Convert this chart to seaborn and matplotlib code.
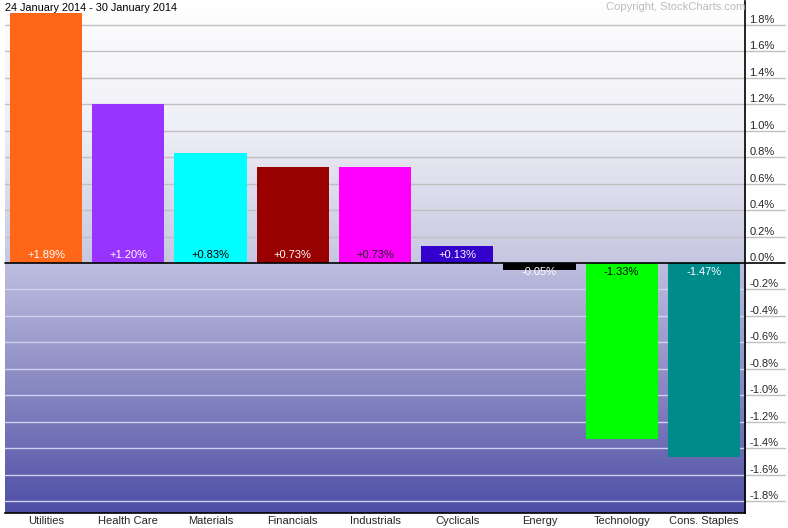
import numpy as np
import pandas as pd
import matplotlib
matplotlib.use("Agg")
import matplotlib.pyplot as plt
import seaborn as sns
from matplotlib.colors import LinearSegmentedColormap

# === Data ===
sectors = ["Utilities", "Health Care", "Materials", "Financials", "Industrials",
           "Cyclicals", "Energy", "Technology", "Cons. Staples"]
changes = [1.89, 1.20, 0.83, 0.73, 0.73, 0.13, -0.05, -1.33, -1.47]
bar_colors = ["#ff6618", "#9933ff", "#00ffff", "#990000", "#ff00ff",
              "#3300cc", "#000000", "#00ff00", "#008b8b"]
label_colors = ["white", "white", "black", "white", "#222222",
                "white", "white", "black", "white"]
yticks = [-1.8, -1.6, -1.4, -1.2, -1.0, -0.8, -0.6, -0.4, -0.2,
          0.0, 0.2, 0.4, 0.6, 0.8, 1.0, 1.2, 1.4, 1.6, 1.8]
title = "24 January 2014 - 30 January 2014"
credit = "Copyright, StockCharts.com"

df = pd.DataFrame({"sector": sectors, "change": changes})

sns.set_theme(style="white")
plt.rcParams["font.family"] = ["Liberation Sans", "DejaVu Sans"]

fig = plt.figure(figsize=(7.88, 5.28), dpi=100)
ax = fig.add_axes([5 / 788, 15 / 528, 740 / 788, 512 / 528])

ymin, ymax = -1.891, 1.982
xmin, xmax = -0.5, 8.52
ax.set_xlim(xmin, xmax)
ax.set_ylim(ymin, ymax)

# === Background gradients ===
upper = LinearSegmentedColormap.from_list("up", ["#c6c6e0", "#eeeef6", "#ffffff"])
lower = LinearSegmentedColormap.from_list("lo", ["#4e4ea6", "#8888c2", "#bebee0"])
grad = np.linspace(0, 1, 256).reshape(-1, 1)
ax.imshow(grad, cmap=upper, aspect="auto", origin="lower",
          extent=[xmin, xmax, 0, ymax], zorder=0)
ax.imshow(grad, cmap=lower, aspect="auto", origin="lower",
          extent=[xmin, xmax, ymin, 0], zorder=0)

# === Gridlines (extend under right labels) ===
for t in yticks:
    if t > 0:
        ax.axhline(t, xmin=0, xmax=780 / 740, color="#c0c0c0", lw=1,
                   clip_on=False, zorder=1)
    elif t < 0:
        ax.axhline(t, xmin=0, xmax=1, color="#d0d0f0", lw=1, zorder=1)
        ax.axhline(t, xmin=1, xmax=780 / 740, color="#c0c0c0", lw=1,
                   clip_on=False, zorder=1)

# === Bars ===
sns.barplot(data=df, x="sector", y="change", hue="sector", palette=bar_colors,
            width=0.878, saturation=1, legend=False, ax=ax, zorder=2)
for p in ax.patches:
    p.set_edgecolor("none")

ax.axhline(0, xmin=0, xmax=780 / 740, color="black", lw=1.2, clip_on=False, zorder=3)

# === Value labels ===
for i, v in enumerate(changes):
    y = 0.06 if v > 0 else -0.065
    ax.text(i, y, f"{v:+.2f}%", ha="center", va="center", fontsize=8,
            color=label_colors[i], zorder=4)

# === Axes styling ===
for s in ["left", "top"]:
    ax.spines[s].set_visible(False)
ax.spines["right"].set_color("black")
ax.spines["bottom"].set_color("black")
ax.spines["right"].set_linewidth(1.2)
ax.spines["bottom"].set_linewidth(1.2)

ax.yaxis.tick_right()
ax.set_yticks(yticks)
ax.set_yticklabels([f"{t:.1f}%" for t in yticks], fontsize=8)
for lab in ax.get_yticklabels():
    lab.set_va("bottom")
ax.tick_params(axis="y", length=0, pad=3)
ax.tick_params(axis="x", length=0, pad=2, labelsize=8)
ax.set_xlabel("")
ax.set_ylabel("")

fig.text(5 / 788, 1 - 8 / 528, title, ha="left", va="center", fontsize=7.8, color="black")
fig.text(676 / 788, 1 - 7 / 528, credit, ha="center", va="center", fontsize=8, color="#bbbbbb")

fig.savefig("out.png", dpi=100)
